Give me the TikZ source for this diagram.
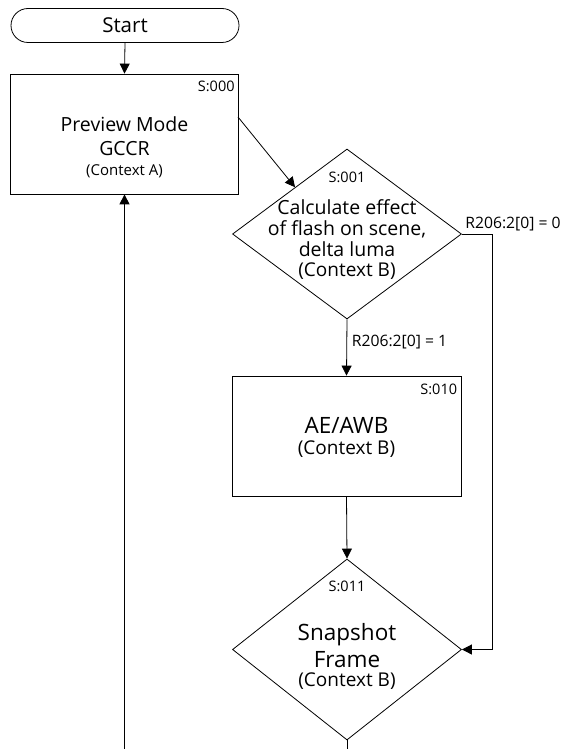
\documentclass[tikz,border=0pt]{standalone}
\usepackage{fontspec}
\setmainfont{Open Sans}
\usetikzlibrary{arrows.meta,shapes.geometric}
\begin{document}
\begin{tikzpicture}[x=1pt,y=-1pt,line width=0.8pt,
  shp/.style={draw,inner sep=0pt},
  boxst/.style={shp,rectangle,minimum width=228pt,minimum height=120pt},
  diast/.style={shp,diamond,minimum width=229pt},
  arr/.style={-{Triangle[length=10pt,width=10pt]}},
  mainfont/.style={font=\fontsize{19.5}{22}\selectfont},
  bigfont/.style={font=\fontsize{22.5}{25}\selectfont},
  ctxfont/.style={font=\fontsize{19}{22}\selectfont},
  ctxafont/.style={font=\fontsize{15}{17}\selectfont},
  smallfont/.style={font=\fontsize{14.5}{16}\selectfont},
  lblfont/.style={font=\fontsize{15.7}{18}\selectfont},
  txt/.style={inner sep=0pt,anchor=base}]
\useasboundingbox (0,0) rectangle (564,749);
% shapes
\node[shp,rectangle,rounded corners=17pt,minimum width=228pt,minimum height=34pt] (start) at (125,25.5) {};
\node[boxst] (b0) at (124.5,134) {};
\node[diast,minimum height=170pt] (d1) at (347,234) {};
\node[boxst,minimum width=229pt] (b1) at (346.5,436) {};
\node[diast,minimum height=181pt] (d2) at (347,649.5) {};
\coordinate (rt) at (492,234);
\coordinate (lb) at (124.5,749);
\coordinate (bb) at (347,749);
% texts
\node[txt,font=\fontsize{20.5}{23}\selectfont] (tstart) at (125,32.3) {Start};
\node[txt,smallfont,anchor=base east] (s0) at (235,91.7) {S:000};
\node[txt,mainfont] (t0a) at (124.5,131.7) {Preview Mode};
\node[txt,mainfont] (t0b) at (124.5,155) {GCCR};
\node[txt,ctxafont] (t0c) at (124.5,175) {(Context A)};
\node[txt,smallfont] (s1) at (347,182.3) {S:001};
\node[txt,mainfont] (t1a) at (347,214) {Calculate effect};
\node[txt,mainfont] (t1b) at (347,235.7) {of flash on scene,};
\node[txt,mainfont] (t1c) at (347,256.7) {delta luma};
\node[txt,ctxfont] (t1d) at (347,276) {(Context B)};
\node[txt,smallfont,anchor=base east] (s2) at (457.5,394) {S:010};
\node[txt,bigfont] (t2a) at (346.5,433.3) {AE/AWB};
\node[txt,ctxfont] (t2b) at (346.5,454.3) {(Context B)};
\node[txt,smallfont] (s3) at (347,591) {S:011};
\node[txt,bigfont] (t3a) at (347,640) {Snapshot};
\node[txt,bigfont] (t3b) at (347,667.7) {Frame};
\node[txt,ctxfont] (t3c) at (347,686.7) {(Context B)};
\node[txt,lblfont,anchor=base west] (l0) at (465,228.3) {R206:2[0] = 0};
\node[txt,lblfont,anchor=base west] (l1) at (351.5,346.7) {R206:2[0] = 1};
% connectors
\draw[arr] (start.south) -- (b0.north);
\coordinate (de) at (238,117);
\draw[arr] (de) -- (d1.138);
\draw[arr] (d1.south) -- (b1.north);
\draw[arr] (b1.south) -- (d2.north);
\draw[arr] (d1.east) -- (rt) |- (d2.east);
\draw (d2.south) -- (bb);
\draw[arr,line width=1.1pt] (lb) -- (b0.south);
\end{tikzpicture}
\end{document}
